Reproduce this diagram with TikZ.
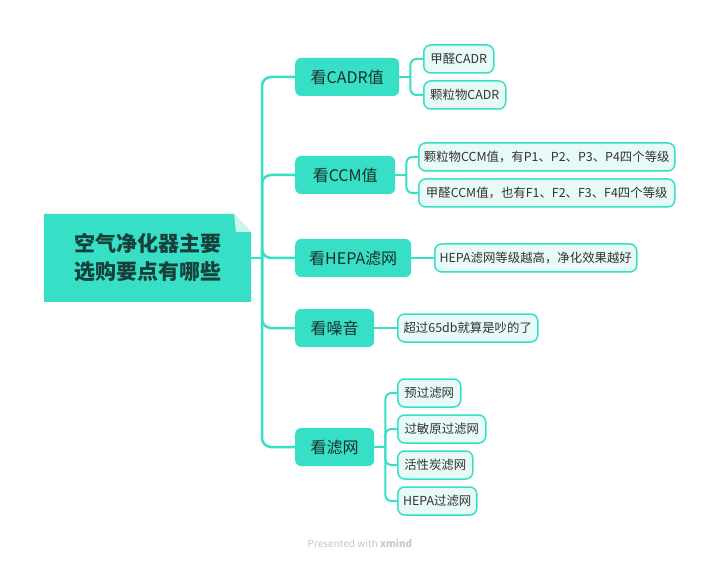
\documentclass[tikz,border=0pt]{standalone}
\usepackage{fontspec}
\setmainfont{Noto Sans CJK SC}
\definecolor{turq}{HTML}{36DFC6}
\definecolor{lightf}{HTML}{E8FAF7}
\definecolor{foldc}{HTML}{C9F6EF}
\definecolor{roottxt}{HTML}{16403A}
\definecolor{ltxt}{HTML}{1C2E2B}
\definecolor{ttxt}{HTML}{333333}
\tikzset{
  rootbox/.style={fill=turq},
  lvlone/.style={anchor=west, fill=turq, rounded corners=6pt, minimum height=38pt, inner sep=0pt,
    text=ltxt, font=\fontsize{16}{19}\selectfont},
  lvltwo/.style={anchor=west, fill=lightf, draw=turq, line width=1.5pt, rounded corners=7pt,
    minimum height=28pt, inner sep=0pt, text=ttxt, font=\fontsize{12.4}{15}\selectfont},
  conn/.style={draw=turq, line width=2.5pt},
}
\begin{document}
\begin{tikzpicture}[x=1pt,y=-1pt]
\useasboundingbox (0,0) rectangle (720,561);
\fill[white] (0,0) rectangle (720,561);
% root
\fill[turq] (44,214) -- (234,214) -- (251,232) -- (251,302) -- (44,302) -- cycle;
\fill[foldc] (234,214) -- (236,232) -- (251,232) -- cycle;
\node[text=roottxt, font=\fontsize{21}{28}\selectfont\bfseries, align=center] (root) at (148,258)
  {空气净化器主要\\选购要点有哪些};
\coordinate (rootE) at (251,258);
\coordinate (J) at (262,258);
% level one
\node[lvlone, minimum width=104pt] (cadr) at (295,77) {看CADR值};
\node[lvlone, minimum width=100pt] (ccm) at (295,175) {看CCM值};
\node[lvlone, minimum width=116pt] (hepa) at (295,258) {看HEPA滤网};
\node[lvlone, minimum width=79pt] (noise) at (295,328) {看噪音};
\node[lvlone, minimum width=79pt] (filt) at (295,447) {看滤网};
% level two
\node[lvltwo, minimum width=70pt] (a1) at (423,59) {甲醛CADR};
\node[lvltwo, minimum width=82pt] (a2) at (423,95) {颗粒物CADR};
\node[lvltwo, minimum width=256pt] (b1) at (418,157) {颗粒物CCM值，有P1、P2、P3、P4四个等级};
\node[lvltwo, minimum width=256pt] (b2) at (418,193) {甲醛CCM值，也有F1、F2、F3、F4四个等级};
\node[lvltwo, minimum width=202pt] (c1) at (434,258) {HEPA滤网等级越高，净化效果越好};
\node[lvltwo, minimum width=140pt] (d1) at (397,328) {超过65db就算是吵的了};
\node[lvltwo, minimum width=63pt] (e1) at (397,393) {预过滤网};
\node[lvltwo, minimum width=88pt] (e2) at (397,429) {过敏原过滤网};
\node[lvltwo, minimum width=75pt] (e3) at (397,465) {活性炭滤网};
\node[lvltwo, minimum width=79pt] (e4) at (397,501) {HEPA过滤网};
% trunk connectors
\begin{scope}[on background layer/.style={}]
\draw[conn] (rootE) -- (J);
\foreach \c in {cadr,ccm,hepa,noise,filt}
  \draw[conn, rounded corners=9pt] (J) |- (\c.west);
% cadr children
\coordinate (Ja) at ([xshift=11pt]cadr.east);
\draw[conn, line width=2pt] (cadr.east) -- (Ja);
\foreach \c in {a1,a2}
  \draw[conn, line width=2pt, rounded corners=6pt] (Ja) |- (\c.west);
% ccm children
\coordinate (Jb) at ([xshift=11pt]ccm.east);
\draw[conn, line width=2pt] (ccm.east) -- (Jb);
\foreach \c in {b1,b2}
  \draw[conn, line width=2pt, rounded corners=6pt] (Jb) |- (\c.west);
% singles
\draw[conn, line width=2pt] (hepa.east) -- (c1.west);
\draw[conn, line width=2pt] (noise.east) -- (d1.west);
% filter children
\coordinate (Je) at ([xshift=11pt]filt.east);
\draw[conn, line width=2pt] (filt.east) -- (Je);
\foreach \c in {e1,e2,e3,e4}
  \draw[conn, line width=2pt, rounded corners=6pt] (Je) |- (\c.west);
\end{scope}
% footer
\node[text=black!22, font=\fontsize{10}{12}\selectfont] (foot) at (360,543) {Presented with \textbf{xmind}};
\end{tikzpicture}
\end{document}
